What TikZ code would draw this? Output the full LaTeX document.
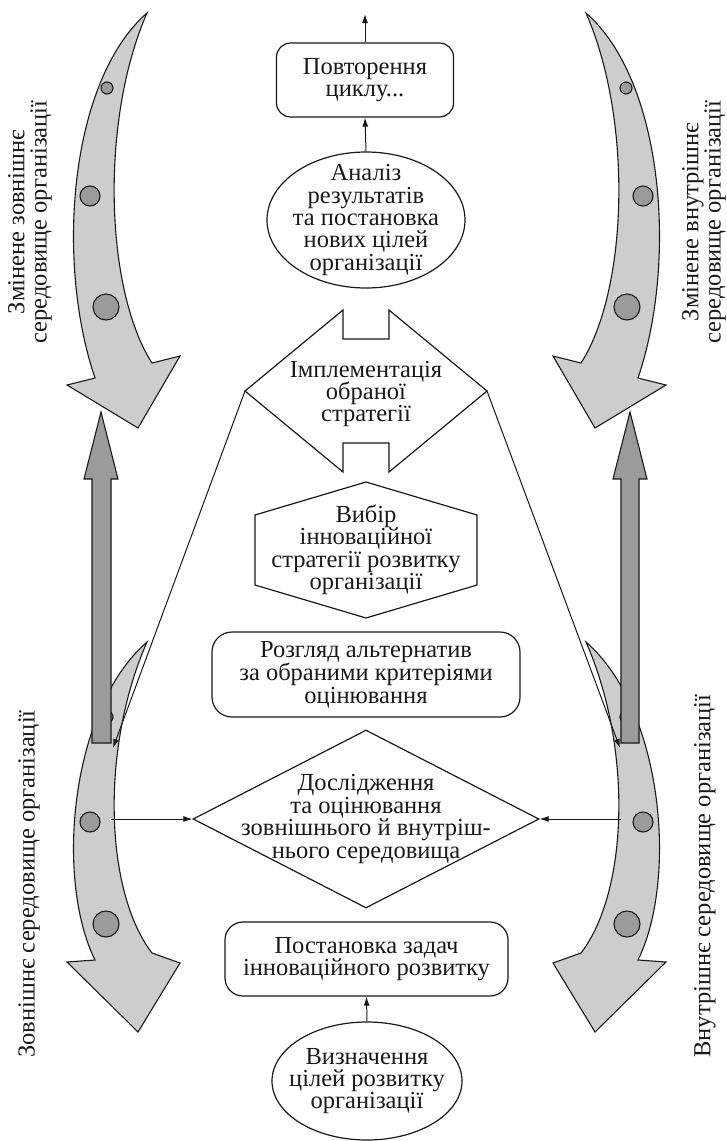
\documentclass[tikz,border=0pt]{standalone}
\usepackage{fontspec}
\setmainfont{Liberation Serif}
\usetikzlibrary{shapes.geometric,arrows.meta}
\definecolor{lg}{RGB}{205,205,205}
\definecolor{dg}{RGB}{155,155,155}
\definecolor{ink}{RGB}{25,25,25}
\begin{document}
\begin{tikzpicture}[x=1pt,y=-1pt,line width=1.2pt,draw=ink,text=ink,
  font=\fontsize{24.5}{22.4}\selectfont,
  box/.style={draw,rounded corners=14pt,inner sep=0pt},
  oval/.style={draw,ellipse,inner sep=0pt},
  txt/.style={align=center,inner sep=0pt},
  conn/.style={-{Latex[length=9pt,width=6pt]},line width=1pt},
  curvy/.style={draw,fill=lg,line width=1.1pt,line join=miter},
  dot/.style={draw,fill=dg,line width=1.1pt},
  bar/.style={draw,fill=dg,line width=1.1pt}]
\useasboundingbox (0,0) rectangle (726,1141);

% curved arrows (scene shapes)
\def\curvyarrow{%
  \path[curvy] (0,0) .. controls (-77,67) and (-92,247) .. (-52,365)
    -- (-80,372) -- (-9,415) -- (33,343) -- (5,350)
    .. controls (-42,277) and (-47,107) .. (0,0) -- cycle;
  \path[dot] (-40,75) circle (6);
  \path[dot] (-57,183) circle (10);
  \path[dot] (-41,294) circle (13);}
\def\curvyarrowlow{%
  \path[curvy] (0,0) .. controls (-77,67) and (-92,237) .. (-52,318)
    -- (-80,320) -- (-9,390) -- (33,321) -- (5,311)
    .. controls (-42,250) and (-47,107) .. (0,0) -- cycle;
  \path[dot] (-40,75) circle (6);
  \path[dot] (-57,180) circle (10);
  \path[dot] (-41,282) circle (13);}
\begin{scope}[shift={(147,13)}]\curvyarrow\end{scope}
\begin{scope}[shift={(586,13)},xscale=-1]\curvyarrow\end{scope}
\begin{scope}[shift={(147,642)}]\curvyarrowlow\end{scope}
\begin{scope}[shift={(586,642)},xscale=-1]\curvyarrowlow\end{scope}

% vertical gray arrows
\path[bar] (92,743) -- (92,479) -- (84,479) -- (101,412) -- (118,479) -- (111,479) -- (111,743) -- cycle;
\path[bar] (621,743) -- (621,479) -- (613,479) -- (630,412) -- (647,479) -- (639,479) -- (639,743) -- cycle;

% side labels
\node[txt,rotate=90] (lt) at (30,222) {Змінене зовнішнє\\середовище організації};
\node[txt,rotate=90] (rt) at (704,222) {Змінене внутрішнє\\середовище організації};
\node[txt,rotate=90] (lb) at (29,884) {Зовнішнє середовище організації};
\node[txt,rotate=90] (rb) at (705,876) {Внутрішнє середовище організації};

% central column
\node[box,minimum width=177pt,minimum height=74pt] (rep) at (365,80) {};
\node[txt] (repT) at (rep) {Повторення\\циклу...};
\coordinate (topend) at (365,14);

\node[oval,minimum width=198pt,minimum height=136pt] (ana) at (366,220) {};
\node[txt] (anaT) at (ana) {Аналіз\\результатів\\та постановка\\нових цілей\\організації};

\coordinate (impL) at (245,391);
\coordinate (impR) at (487,391);
\draw (impL) -- (343,310) -- (343,339) -- (389,339) -- (389,310) -- (impR)
  -- (389,472) -- (389,443) -- (343,443) -- (343,472) -- cycle;
\node[txt] (impT) at (366,394) {Імплементація\\обраної\\стратегії};

\draw (366,482) -- (477,515) -- (477,585) -- (366,618) -- (255,585) -- (255,515) -- cycle;
\node[txt] (vybT) at (366,550) {Вибір\\інноваційної\\стратегії розвитку\\організації};

\node[box,rounded corners=20pt,minimum width=308pt,minimum height=85pt] (roz) at (366,674.5) {};
\node[txt] (rozT) at (roz) {Розгляд альтернатив\\за обраними критеріями\\оцінювання};

\node[draw,diamond,inner sep=0pt,minimum width=346pt,minimum height=178pt] (dos) at (366,819) {};
\node[txt] (dosT) at (dos) {Дослідження\\та оцінювання\\зовнішнього й внутріш-\\нього середовища};

\node[box,rounded corners=18pt,minimum width=283pt,minimum height=74pt] (post) at (366.5,959) {};
\node[txt] (postT) at (post) {Постановка задач\\інноваційного розвитку};

\node[oval,minimum width=190pt,minimum height=118pt] (vyz) at (367,1081) {};
\node[txt] (vyzT) at (vyz) {Визначення\\цілей розвитку\\організації};

% connectors
\coordinate (lbarend) at (113,748);
\coordinate (rbarend) at (620,748);
\coordinate (lsrc) at (111,819);
\coordinate (rsrc) at (621,819);
\draw[conn] (rep.north) -- (topend);
\draw[conn] (ana.north) -- (rep.south);
\draw[conn] (vyz.north) -- (post.south);
\draw[conn] (impL) -- (lbarend);
\draw[conn] (impR) -- (rbarend);
\draw[conn] (lsrc) -- (dos.west);
\draw[conn] (rsrc) -- (dos.east);
\end{tikzpicture}
\end{document}
